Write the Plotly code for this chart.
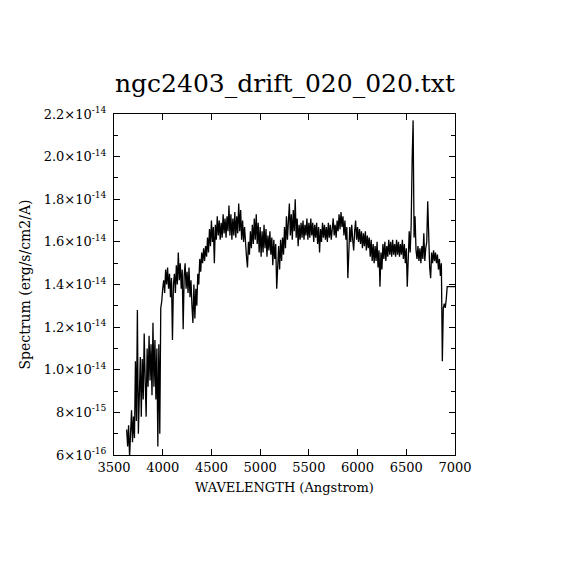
import plotly.graph_objects as go

wavelength = [
    3630, 3640, 3650, 3660, 3670, 3680, 3690, 3700, 3710, 3720,
    3730, 3740, 3750, 3760, 3770, 3780, 3790, 3800, 3810, 3820,
    3830, 3840, 3850, 3860, 3870, 3880, 3890, 3900, 3910, 3920,
    3930, 3940, 3950, 3960, 3970, 3980, 3990, 4000, 4010, 4020,
    4030, 4040, 4050, 4060, 4070, 4080, 4090, 4100, 4110, 4120,
    4130, 4140, 4150, 4160, 4170, 4180, 4190, 4200, 4210, 4220,
    4230, 4240, 4250, 4260, 4270, 4280, 4290, 4300, 4310, 4320,
    4330, 4340, 4350, 4360, 4370, 4380, 4390, 4400, 4410, 4420,
    4430, 4440, 4450, 4460, 4470, 4480, 4490, 4500, 4510, 4520,
    4530, 4540, 4550, 4560, 4570, 4580, 4590, 4600, 4610, 4620,
    4630, 4640, 4650, 4660, 4670, 4680, 4690, 4700, 4710, 4720,
    4730, 4740, 4750, 4760, 4770, 4780, 4790, 4800, 4810, 4820,
    4830, 4840, 4850, 4860, 4870, 4880, 4890, 4900, 4910, 4920,
    4930, 4940, 4950, 4960, 4970, 4980, 4990, 5000, 5010, 5020,
    5030, 5040, 5050, 5060, 5070, 5080, 5090, 5100, 5110, 5120,
    5130, 5140, 5150, 5160, 5170, 5180, 5190, 5200, 5210, 5220,
    5230, 5240, 5250, 5260, 5270, 5280, 5290, 5300, 5310, 5320,
    5330, 5340, 5350, 5360, 5370, 5380, 5390, 5400, 5410, 5420,
    5430, 5440, 5450, 5460, 5470, 5480, 5490, 5500, 5510, 5520,
    5530, 5540, 5550, 5560, 5570, 5580, 5590, 5600, 5610, 5620,
    5630, 5640, 5650, 5660, 5670, 5680, 5690, 5700, 5710, 5720,
    5730, 5740, 5750, 5760, 5770, 5780, 5790, 5800, 5810, 5820,
    5830, 5840, 5850, 5860, 5870, 5880, 5890, 5900, 5910, 5920,
    5930, 5940, 5950, 5960, 5970, 5980, 5990, 6000, 6010, 6020,
    6030, 6040, 6050, 6060, 6070, 6080, 6090, 6100, 6110, 6120,
    6130, 6140, 6150, 6160, 6170, 6180, 6190, 6200, 6210, 6220,
    6230, 6240, 6250, 6260, 6270, 6280, 6290, 6300, 6310, 6320,
    6330, 6340, 6350, 6360, 6370, 6380, 6390, 6400, 6410, 6420,
    6430, 6440, 6450, 6460, 6470, 6480, 6490, 6500, 6510, 6520,
    6530, 6540, 6550, 6560, 6570, 6580, 6590, 6600, 6610, 6620,
    6630, 6640, 6650, 6660, 6670, 6680, 6690, 6700, 6710, 6720,
    6730, 6740, 6750, 6760, 6770, 6780, 6790, 6800, 6810, 6820,
    6830, 6840, 6850, 6860, 6870, 6880, 6890, 6900, 6910, 6920,
    6930, 6940, 6950, 6960, 6970, 6980, 6990, 7000,
]

flux = [
    0.72, 0.64, 0.74, 0.59, 0.70, 0.81, 0.66, 0.78, 0.68, 1.04,
    0.76, 1.28, 0.70, 0.85, 1.06, 0.78, 1.05, 0.86, 1.17, 0.95,
    0.78, 1.10, 0.92, 1.16, 0.95, 1.12, 0.88, 1.22, 0.92, 1.14,
    0.86, 1.10, 0.64, 1.12, 0.70, 1.29, 1.32, 1.38, 1.42, 1.36,
    1.47, 1.40, 1.48, 1.38, 1.45, 1.34, 1.43, 1.14, 1.40, 1.45,
    1.36, 1.49, 1.40, 1.55, 1.42, 1.50, 1.38, 1.47, 1.19, 1.44,
    1.50, 1.38, 1.46, 1.36, 1.48, 1.34, 1.42, 1.30, 1.22, 1.40,
    1.24, 1.38, 1.30, 1.45, 1.40, 1.52, 1.46, 1.55, 1.50, 1.57,
    1.51, 1.58, 1.53, 1.62, 1.55, 1.66, 1.58, 1.70, 1.60, 1.67,
    1.50, 1.68, 1.61, 1.72, 1.63, 1.70, 1.61, 1.69, 1.62, 1.73,
    1.64, 1.71, 1.62, 1.72, 1.65, 1.77, 1.63, 1.73, 1.61, 1.71,
    1.63, 1.74, 1.62, 1.72, 1.64, 1.78, 1.65, 1.75, 1.61, 1.70,
    1.60, 1.67, 1.58, 1.53, 1.48, 1.60, 1.54, 1.65, 1.57, 1.68,
    1.59, 1.71, 1.61, 1.73, 1.59, 1.69, 1.55, 1.67, 1.53, 1.65,
    1.55, 1.68, 1.57, 1.66, 1.53, 1.63, 1.56, 1.65, 1.54, 1.62,
    1.49, 1.61, 1.52, 1.59, 1.38, 1.51, 1.58, 1.47, 1.61, 1.51,
    1.62, 1.54, 1.67, 1.57, 1.72, 1.61, 1.69, 1.78, 1.63, 1.73,
    1.61, 1.75, 1.65, 1.80, 1.62, 1.71, 1.58, 1.68, 1.61, 1.69,
    1.62, 1.70, 1.61, 1.68, 1.63, 1.71, 1.61, 1.69, 1.62, 1.71,
    1.63, 1.69, 1.60, 1.68, 1.62, 1.69, 1.59, 1.67, 1.55, 1.66,
    1.60, 1.69, 1.62, 1.68, 1.61, 1.67, 1.60, 1.69, 1.62, 1.68,
    1.61, 1.69, 1.71, 1.63, 1.68, 1.62, 1.70, 1.65, 1.73, 1.66,
    1.74, 1.67, 1.72, 1.63, 1.70, 1.61, 1.67, 1.43, 1.61, 1.67,
    1.60, 1.68, 1.61, 1.56, 1.65, 1.70, 1.61, 1.67, 1.60, 1.66,
    1.59, 1.65, 1.57, 1.64, 1.58, 1.65, 1.56, 1.63, 1.57, 1.62,
    1.53, 1.61, 1.51, 1.59, 1.50, 1.58, 1.51, 1.60, 1.48, 1.56,
    1.39, 1.55, 1.47, 1.59, 1.52, 1.60, 1.51, 1.58, 1.53, 1.61,
    1.54, 1.60, 1.53, 1.61, 1.54, 1.59, 1.53, 1.61, 1.54, 1.60,
    1.53, 1.59, 1.54, 1.61, 1.52, 1.59, 1.50, 1.57, 1.39, 1.58,
    1.65, 1.55, 1.68, 1.98, 2.17, 1.62, 1.72, 1.56, 1.52, 1.58,
    1.51, 1.57, 1.50, 1.58, 1.52, 1.64, 1.51, 1.57, 1.60, 1.79,
    1.62, 1.48, 1.43, 1.55, 1.50, 1.56, 1.51, 1.55, 1.50, 1.54,
    1.47, 1.52, 1.44, 1.50, 1.04, 1.29, 1.31, 1.29, 1.33, 1.39,
    1.39, 1.39, 1.39, 1.39, 1.39, 1.39, 1.39, 1.39,
]

x_ticks = [3500, 4000, 4500, 5000, 5500, 6000, 6500, 7000]
y_ticks = [6e-15, 8e-15, 1.0e-14, 1.2e-14, 1.4e-14, 1.6e-14, 1.8e-14, 2.0e-14, 2.2e-14]
y_tick_labels = [
    "6×10<sup>-16</sup>", "8×10<sup>-15</sup>",
    "1.0×10<sup>-14</sup>", "1.2×10<sup>-14</sup>", "1.4×10<sup>-14</sup>",
    "1.6×10<sup>-14</sup>", "1.8×10<sup>-14</sup>", "2.0×10<sup>-14</sup>",
    "2.2×10<sup>-14</sup>",
]
y_minor = [7e-15, 9e-15, 1.1e-14, 1.3e-14, 1.5e-14, 1.7e-14, 1.9e-14, 2.1e-14]

font = "DejaVu Serif"

fig = go.Figure()
fig.add_trace(go.Scatter(
    x=wavelength,
    y=[f * 1e-14 for f in flux],
    mode="lines",
    line=dict(color="black", width=1.3),
    showlegend=False,
))

axis_common = dict(
    showgrid=False, zeroline=False,
    showline=True, linecolor="black", linewidth=1,
    mirror="ticks", ticks="inside", tickcolor="black", tickwidth=1,
    tickfont=dict(family=font, size=13, color="black"),
)

fig.update_xaxes(
    range=[3500, 7000], tickmode="array", tickvals=x_ticks,
    ticklen=6, **axis_common,
)
fig.update_yaxes(
    range=[6e-15, 2.2e-14], tickmode="array", tickvals=y_ticks,
    ticktext=y_tick_labels, ticklen=6, ticklabelstandoff=4,
    minor=dict(tickmode="array", tickvals=y_minor, ticks="inside",
               ticklen=4, tickcolor="black", tickwidth=1),
    **axis_common,
)

# the page body adds an 8px offset, so the figure is drawn 8px smaller
fig.update_layout(
    width=562, height=562,
    margin=dict(l=106, r=115, t=106, b=115),
    paper_bgcolor="white", plot_bgcolor="white",
    title=dict(text="ngc2403_drift_020_020.txt", x=(285 - 8) / 562, xanchor="center",
               y=1 - 75 / 562, yanchor="middle", yref="container",
               font=dict(family=font, size=25, color="black")),
    annotations=[
        dict(text="WAVELENGTH (Angstrom)", xref="paper", yref="paper",
             x=0.5, y=0, xanchor="center", yanchor="middle", yshift=-32,
             showarrow=False, font=dict(family=font, size=13, color="black")),
        dict(text="Spectrum (erg/s/cm2/A)", xref="paper", yref="paper",
             x=0, y=0.5, xanchor="center", yanchor="middle", xshift=-90,
             textangle=-90, showarrow=False,
             font=dict(family=font, size=14, color="black")),
    ],
)

fig.write_html("out.html")
